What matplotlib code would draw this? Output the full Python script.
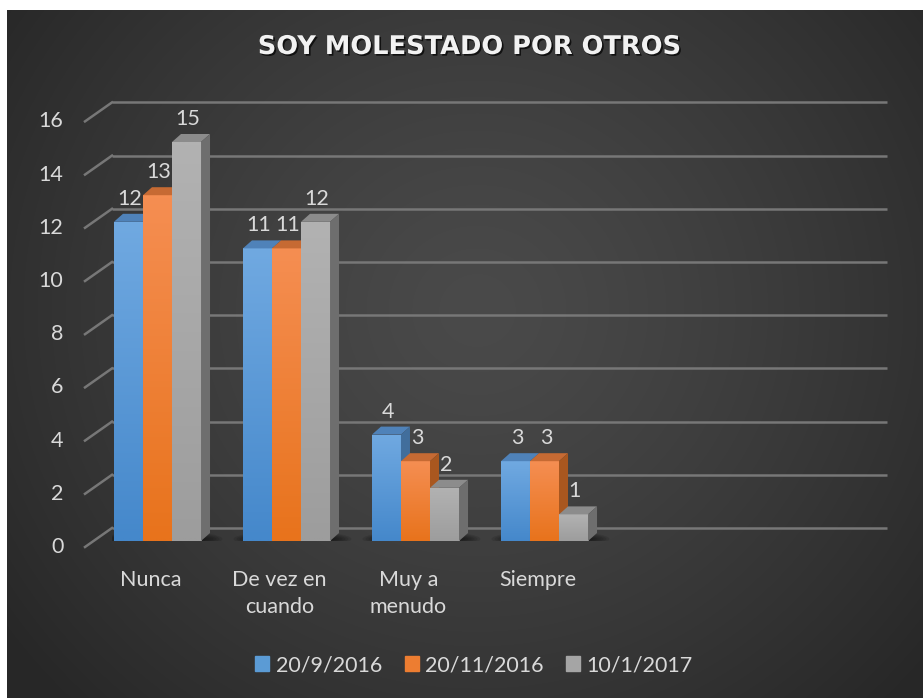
import numpy as np
import matplotlib
matplotlib.use('Agg')
import matplotlib.pyplot as plt
import matplotlib.patheffects as pe
from matplotlib.patches import Polygon, Patch, Ellipse
from matplotlib.colors import to_rgb
from matplotlib.transforms import ScaledTranslation

categories = ['Nunca', 'De vez en\ncuando', 'Muy a\nmenudo', 'Siempre']
series_names = ['20/9/2016', '20/11/2016', '10/1/2017']
vals_sep = [12, 11, 4, 3]
vals_nov = [13, 11, 3, 3]
vals_jan = [15, 12, 2, 1]
yticks = list(range(0, 17, 2))

front_cols = ['#5b9bd5', '#ed7d31', '#a5a5a5']
grad_top = ['#70a9e1', '#f58e52', '#b2b2b2']
grad_bot = ['#4588cb', '#e8731c', '#9d9d9d']
top_cols = ['#4f82b9', '#c66a33', '#8c8c8c']
side_cols = ['#416e9c', '#a9571f', '#6e6e6e']
txt_col = '#d9d9d9'

W, H = 923, 700
fig = plt.figure(figsize=(W / 100, H / 100), dpi=100)
fig.patch.set_facecolor('white')

# dark radial background
bg = fig.add_axes([7 / W, 2 / H, 916 / W, 688 / H])
bg.axis('off')
yy, xx = np.mgrid[0:688, 0:916]
r = np.sqrt(((xx - 470) / 1.05) ** 2 + (yy - 300) ** 2)
g = 0x4a - (0x4a - 0x27) * np.clip(r / 560, 0, 1) ** 1.3
img = np.dstack([g, g, g]) / 255
bg.imshow(img, aspect='auto', interpolation='bilinear')

ax = fig.add_axes([112 / W, (H - 541) / H, 775 / W, 425.6 / H])
ax.patch.set_alpha(0)
xlim = (-0.3527, -0.3527 + 775 / 129)
ylim = (0, 16)
ax.set_xlim(*xlim)
ax.set_ylim(*ylim)
for s in ax.spines.values():
    s.set_visible(False)


def px(dx, dy):
    return ScaledTranslation(dx / 100, dy / 100, fig.dpi_scale_trans)


inv = ax.transData.inverted()

# walls / gridlines
ytr = ax.get_yaxis_transform()
for v in yticks:
    ax.plot([0, 1], [v, v], color='#777777', lw=1.8, transform=ytr + px(0, 13),
            clip_on=False, zorder=1, solid_capstyle='butt')
    p0 = ax.transData.transform((xlim[0], v)) + np.array([-27, -6])
    p1 = ax.transData.transform((xlim[0], v)) + np.array([0, 13])
    q0, q1 = inv.transform(p0), inv.transform(p1)
    ax.plot([q0[0], q1[0]], [q0[1], q1[1]], color='#777777', lw=1.8,
            clip_on=False, zorder=1)

x = np.arange(len(categories))
w = 0.225
offs = [-w, 0, w]
series = [vals_sep, vals_nov, vals_jan]

# depth of the 3D bars in data units
o = ax.transData.transform((0, 0))
ddx, ddy = inv.transform(o + np.array([9, 8])) - inv.transform(o)
# one pixel in data units
ux, uy = inv.transform(o + np.array([1, 1])) - inv.transform(o)

for ci in range(len(categories)):
    # soft floor shadow
    cx = x[ci] + 6 * ux
    for k in range(6):
        ax.add_patch(Ellipse((cx, 2 * uy), (118 - 6 * k) * ux, (16 - 2 * k) * uy,
                             color='black', alpha=0.10, lw=0, zorder=2))
    for si in range(3):
        v = series[si][ci]
        x0 = x[ci] + offs[si] - w / 2
        x1 = x0 + w
        bar = ax.bar(x0, v, width=w, align='edge', color=front_cols[si], zorder=3 + si, lw=0)[0]
        c0, c1 = np.array(to_rgb(grad_top[si])), np.array(to_rgb(grad_bot[si]))
        t = np.linspace(0, 1, 64)[:, None]
        grad = (c0 * (1 - t) + c1 * t)[:, None, :]
        im = ax.imshow(grad, extent=(x0, x1, 0, v), aspect='auto', zorder=3 + si,
                       interpolation='bilinear')
        im.set_clip_path(bar)
        ax.add_patch(Polygon([(x0, v), (x1, v), (x1 + ddx, v + ddy), (x0 + ddx, v + ddy)],
                             closed=True, color=top_cols[si], lw=0, zorder=3 + si))
        ax.add_patch(Polygon([(x1, 0), (x1 + ddx, ddy), (x1 + ddx, v + ddy), (x1, v)],
                             closed=True, color=side_cols[si], lw=0, zorder=3 + si))
        ax.annotate(str(v), (x0 + w / 2, v), xytext=(1, 16.5), textcoords='offset points',
                    ha='center', va='center', color=txt_col, fontsize=15.5,
                    family='Lato', zorder=10)

ax.set_xlim(*xlim)
ax.set_ylim(*ylim)

ax.set_yticks(yticks)
ax.set_yticklabels([str(t) for t in yticks])
ax.set_xticks(x)
ax.set_xticklabels(categories, linespacing=1.45)
ax.tick_params(axis='y', length=0, pad=35, labelcolor=txt_col, labelsize=15.5)
ax.tick_params(axis='x', length=0, pad=21, labelcolor=txt_col, labelsize=15.5)
for lab in ax.get_yticklabels():
    lab.set_family('Lato')
    lab.set_transform(lab.get_transform() + px(0, -4))
for lab in ax.get_xticklabels():
    lab.set_family('Lato')
    lab.set_transform(lab.get_transform() + px(-7, 0))

fig.text(470 / W, 1 - 47 / H, 'SOY MOLESTADO POR OTROS', ha='center', va='center',
         color='#f2f2f2', fontsize=18.5, fontweight='bold', family='DejaVu Sans',
         path_effects=[pe.withSimplePatchShadow(offset=(1.2, -1.2), shadow_rgbFace='black', alpha=0.7)])

handles = [Patch(color=c, label=n) for c, n in zip(front_cols, series_names)]
leg = fig.legend(handles=handles, loc='center', bbox_to_anchor=(474 / W, 1 - 665 / H),
                 ncol=3, frameon=False, handlelength=0.65, handleheight=0.65,
                 handletextpad=0.3, columnspacing=1.05, prop={'family': 'Lato', 'size': 15.5})
for t in leg.get_texts():
    t.set_color(txt_col)

fig.savefig('out.png', dpi=100)
